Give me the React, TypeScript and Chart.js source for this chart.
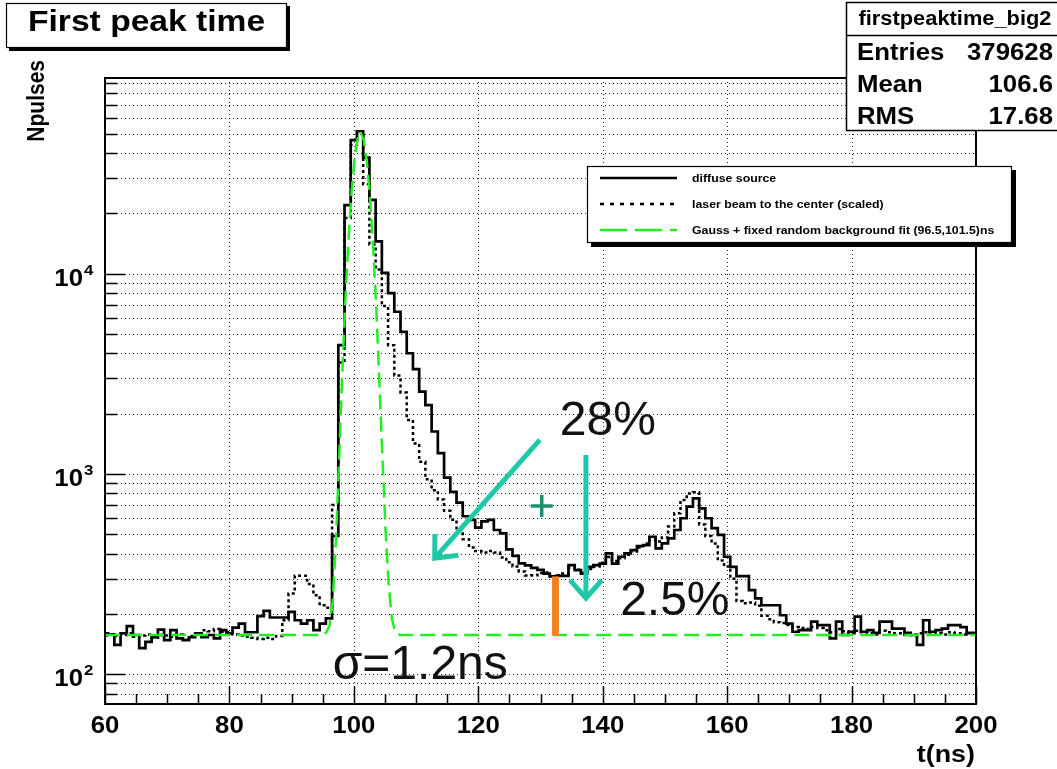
import React, { useEffect, useRef } from "react";
import { Chart, registerables } from "chart.js";

Chart.register(...registerables);

// Histograms use 1 ns bins centred on whole nanoseconds, 60 ns .. 200 ns.
const FIRST_BIN_CENTER = 60;

const diffuseCounts: number[] = [
  160, 158, 140, 160, 174, 157, 135, 145, 153, 167,
  148, 166, 151, 148, 153, 160, 153, 157, 151, 166,
  160, 171, 179, 162, 162, 195, 207, 192, 192, 192,
  205, 186, 179, 186, 166, 179, 190, 490, 4400, 22000,
  46500, 51500, 38000, 23400, 14500, 10100, 8000, 6460, 5130, 4010,
  3340, 2580, 2210, 1630, 1270, 960, 815, 720, 615, 590,
  540, 580, 590, 525, 505, 420, 390, 358, 350, 340,
  332, 318, 308, 310, 310, 351, 331, 318, 344, 351,
  357, 401, 357, 386, 401, 417, 436, 441, 486, 425,
  450, 477, 525, 601, 687, 756, 674, 601, 537, 496,
  386, 344, 309, 309, 263, 239, 221, 221, 221, 197,
  179, 163, 166, 166, 183, 176, 176, 151, 183, 157,
  163, 194, 163, 166, 161, 183, 183, 169, 169, 161,
  157, 140, 186, 163, 166, 169, 176, 176, 172, 161,
  161,
];

const laserCounts: number[] = [
  156, 158, 155, 157, 160, 154, 156, 158, 152, 157,
  156, 154, 158, 150, 155, 158, 166, 164, 168, 163,
  162, 158, 156, 154, 152, 150, 152, 150, 155, 186,
  253, 310, 310, 282, 248, 221, 215, 700, 3600, 19000,
  44000, 51500, 28000, 14000, 10500, 6900, 4400, 3100, 2550, 1860,
  1420, 1150, 940, 830, 745, 655, 590, 520, 472, 430,
  412, 405, 412, 405, 383, 362, 345, 326, 311, 312,
  320, 322, 305, 312, 318, 340, 332, 322, 335, 345,
  360, 385, 368, 380, 395, 410, 430, 450, 470, 460,
  482, 546, 636, 741, 800, 810, 560, 490, 450, 370,
  345, 300, 232, 226, 228, 220, 196, 188, 182, 180,
  176, 172, 170, 168, 172, 170, 166, 162, 168, 164,
  160, 165, 162, 160, 158, 165, 162, 160, 160, 157,
  158, 160, 162, 158, 160, 158, 162, 160, 158, 160,
  158,
];

// Gauss + flat background fit curve, sampled points (t in ns, counts)
const fitTimes: number[] = [
  60, 94.6, 95.1, 95.6, 96.1, 96.6, 97.1, 97.6, 98.1, 98.6, 99.1, 99.6, 100.1, 100.6, 101.0,
  101.6, 102.1, 102.6, 103.1, 103.6, 104.1, 104.6, 105.1, 105.6, 106.1, 106.6, 107.1, 107.6, 200,
];
const fitCounts: number[] = [
  157, 157, 158, 162, 175, 230, 450, 1100, 3000, 7000, 14000, 25000, 37000, 47000, 51500,
  46500, 36000, 24000, 13500, 6800, 2900, 1200, 520, 280, 190, 165, 158, 157, 157,
];

const xTickValues: number[] = [60, 80, 100, 120, 140, 160, 180, 200];
const yDecadeValues: number[] = [100, 1000, 10000];
const yDecadeExponents: string[] = ["2", "3", "4"];

const statsName = "firstpeaktime_big2";
const statsLabels: string[] = ["Entries", "Mean", "RMS"];
const statsValues: string[] = ["379628", "106.6", "17.68"];

const legendLabels: string[] = [
  "diffuse source",
  "laser beam to the center (scaled)",
  "Gauss + fixed random background fit (96.5,101.5)ns",
];

// Hand-drawn remarks, placed in data coordinates (t, counts)
const remarkTexts = [
  { text: "28%", t: 133.1, v: 1567 },
  { text: "2.5%", t: 142.8, v: 197 },
  { text: "σ=1.2ns", t: 96.6, v: 94.4 },
];
const remarkArrows = [
  { t1: 129.9, v1: 1479, t2: 113.0, v2: 380 },
  { t1: 137.3, v1: 1245, t2: 137.3, v2: 240 },
];
const plusMark = { t: 130.2, v: 692 };
const tailBarTime = 132.4;
const tailBarBin = 132;
const backgroundLevel = 157;

const W = 1057;
const H = 769;
const FONT = '"Liberation Sans", Arial, Helvetica, sans-serif';
const STRETCH = 1.12;
const TEAL = "#1fc8a6";

function drawText(
  ctx: CanvasRenderingContext2D,
  text: string,
  x: number,
  y: number,
  size: number,
  bold = true,
  align: CanvasTextAlign = "left",
  stretch = STRETCH,
  color = "#000"
) {
  ctx.save();
  ctx.font = `${bold ? "bold " : ""}${size}px ${FONT}`;
  ctx.fillStyle = color;
  ctx.textAlign = align;
  ctx.textBaseline = "alphabetic";
  ctx.translate(x, y);
  ctx.scale(stretch, 1);
  ctx.fillText(text, 0, 0);
  ctx.restore();
}

function drawArrow(ctx: CanvasRenderingContext2D, x1: number, y1: number, x2: number, y2: number) {
  const ang = Math.atan2(y2 - y1, x2 - x1);
  const head = 24;
  const spread = 0.72;
  ctx.save();
  ctx.strokeStyle = TEAL;
  ctx.lineWidth = 5;
  ctx.lineCap = "butt";
  ctx.lineJoin = "miter";
  ctx.beginPath();
  ctx.moveTo(x1, y1);
  ctx.lineTo(x2 - 2 * Math.cos(ang), y2 - 2 * Math.sin(ang));
  ctx.stroke();
  ctx.beginPath();
  ctx.moveTo(x2 - head * Math.cos(ang - spread), y2 - head * Math.sin(ang - spread));
  ctx.lineTo(x2, y2);
  ctx.lineTo(x2 - head * Math.cos(ang + spread), y2 - head * Math.sin(ang + spread));
  ctx.stroke();
  ctx.restore();
}

const xGridValues: number[] = [80, 100, 120, 140, 160, 180];
const yGridValues: number[] = [];
for (const dec of [10, 100, 1000, 10000]) {
  for (let m = 1; m <= 9; m++) {
    const v = m * dec;
    if (v > 71 && v < 95000) yGridValues.push(v);
  }
}
const xMinorTicks: number[] = [];
for (let t = 60; t <= 200; t += 5) xMinorTicks.push(t);

const rootStylePlugin = {
  id: "rootStyle",
  beforeDatasetsDraw(chart: any) {
    const { ctx, chartArea: a } = chart;
    const xs = chart.scales.x;
    const ys = chart.scales.y;
    ctx.save();
    ctx.beginPath();
    ctx.rect(a.left, a.top, a.right - a.left, a.bottom - a.top);
    ctx.clip();
    ctx.strokeStyle = "rgba(0,0,0,0.85)";
    ctx.lineWidth = 1;
    ctx.setLineDash([1, 3]);
    ctx.beginPath();
    for (const v of xGridValues) {
      const px = Math.round(xs.getPixelForValue(v)) + 0.5;
      ctx.moveTo(px, a.top);
      ctx.lineTo(px, a.bottom);
    }
    for (const v of yGridValues) {
      const py = Math.round(ys.getPixelForValue(v)) + 0.5;
      ctx.moveTo(a.left, py);
      ctx.lineTo(a.right, py);
    }
    ctx.stroke();
    ctx.restore();
  },
  afterDatasetsDraw(chart: any) {
    const { ctx, chartArea: a } = chart;
    const xs = chart.scales.x;
    const ys = chart.scales.y;
    ctx.save();
    // tick marks
    ctx.strokeStyle = "#000";
    ctx.lineWidth = 1.5;
    ctx.beginPath();
    for (const t of xMinorTicks) {
      const px = Math.round(xs.getPixelForValue(t)) + 0.5;
      const len = (t - 60) % 20 === 0 ? 18 : 10;
      ctx.moveTo(px, a.bottom);
      ctx.lineTo(px, a.bottom - len);
    }
    for (const v of yGridValues.concat(yDecadeValues)) {
      const py = Math.round(ys.getPixelForValue(v)) + 0.5;
      const len = yDecadeValues.includes(v) ? 20 : 12;
      ctx.moveTo(a.left, py);
      ctx.lineTo(a.left + len, py);
    }
    ctx.stroke();
    // frame
    ctx.lineWidth = 2;
    ctx.strokeRect(a.left, a.top, a.right - a.left, a.bottom - a.top);
    ctx.restore();

    // x labels
    xTickValues.forEach((v) => {
      drawText(ctx, String(v), xs.getPixelForValue(v), 733, 23, true, "center");
    });
    drawText(ctx, "t(ns)", 975, 762, 24, true, "right");

    // y labels
    yDecadeValues.forEach((v, i) => {
      const py = ys.getPixelForValue(v);
      drawText(ctx, "10", 83, py + 12, 23, true, "right");
      drawText(ctx, yDecadeExponents[i], 84, py + 1, 15, true, "left");
    });

    // y title
    ctx.save();
    ctx.font = `bold 21px ${FONT}`;
    ctx.fillStyle = "#000";
    ctx.translate(44, 60);
    ctx.scale(STRETCH, 1);
    ctx.rotate(-Math.PI / 2);
    ctx.textAlign = "right";
    ctx.fillText("Npulses", 0, 0);
    ctx.restore();
  },
  afterDraw(chart: any) {
    const { ctx } = chart;
    const xs = chart.scales.x;
    const ys = chart.scales.y;

    // title pave
    ctx.save();
    ctx.fillStyle = "#000";
    ctx.fillRect(9, 6, 281, 45);
    ctx.fillStyle = "#fff";
    ctx.fillRect(6, 3, 281, 45);
    ctx.strokeStyle = "#000";
    ctx.lineWidth = 1.2;
    ctx.strokeRect(6.5, 3.5, 280, 44);
    ctx.restore();
    drawText(ctx, "First peak time", 28, 31, 30, true, "left");

    // statistics box
    ctx.save();
    ctx.fillStyle = "#fff";
    ctx.fillRect(846, 3, 220, 128);
    ctx.strokeStyle = "#000";
    ctx.lineWidth = 1.5;
    ctx.strokeRect(846.5, 2.5, 220, 128);
    ctx.beginPath();
    ctx.moveTo(846, 35.5);
    ctx.lineTo(W, 35.5);
    ctx.stroke();
    ctx.restore();
    drawText(ctx, statsName, 955, 25, 19.5, true, "center");
    statsLabels.forEach((lab, i) => {
      const base = 60 + i * 32;
      drawText(ctx, lab, 857, base, 23, true, "left");
      drawText(ctx, statsValues[i], 1053, base, 23, true, "right");
    });

    // legend
    ctx.save();
    ctx.fillStyle = "#000";
    ctx.fillRect(591, 170, 425, 77);
    ctx.fillStyle = "#fff";
    ctx.fillRect(587, 166, 425, 77);
    ctx.strokeStyle = "#000";
    ctx.lineWidth = 1.2;
    ctx.strokeRect(587.5, 166.5, 424, 76);
    const rows = [178, 204, 230];
    const styles = [
      { color: "#000", dash: [] as number[], width: 2.5 },
      { color: "#000", dash: [4, 6], width: 2.5 },
      { color: "#22ee22", dash: [27, 8], width: 2.5 },
    ];
    rows.forEach((ry, i) => {
      ctx.strokeStyle = styles[i].color;
      ctx.lineWidth = styles[i].width;
      ctx.setLineDash(styles[i].dash);
      ctx.beginPath();
      ctx.moveTo(600, ry);
      ctx.lineTo(677, ry);
      ctx.stroke();
    });
    ctx.setLineDash([]);
    ctx.restore();
    rows.forEach((ry, i) => drawText(ctx, legendLabels[i], 692, ry + 4, 11, true, "left"));

    // remarks
    const xb = xs.getPixelForValue(tailBarTime);
    const yTop = ys.getPixelForValue(diffuseCounts[tailBarBin - FIRST_BIN_CENTER]);
    const yBot = ys.getPixelForValue(backgroundLevel);
    ctx.save();
    ctx.fillStyle = "#f7801e";
    ctx.fillRect(xb - 3.5, yTop, 7, yBot - yTop);
    ctx.restore();

    remarkArrows.forEach((r) => {
      drawArrow(ctx, xs.getPixelForValue(r.t1), ys.getPixelForValue(r.v1), xs.getPixelForValue(r.t2), ys.getPixelForValue(r.v2));
    });

    const px = xs.getPixelForValue(plusMark.t);
    const py = ys.getPixelForValue(plusMark.v);
    ctx.save();
    ctx.strokeStyle = "#1e8f72";
    ctx.lineWidth = 3.5;
    ctx.beginPath();
    ctx.moveTo(px - 11, py);
    ctx.lineTo(px + 11, py);
    ctx.moveTo(px, py - 11);
    ctx.lineTo(px, py + 11);
    ctx.stroke();
    ctx.restore();

    remarkTexts.forEach((r) => {
      drawText(ctx, r.text, xs.getPixelForValue(r.t), ys.getPixelForValue(r.v), 48, false, "left", 1, "#111");
    });
  },
};

export default function App() {
  const ref = useRef<HTMLCanvasElement>(null);

  useEffect(() => {
    const canvas = ref.current;
    if (!canvas) return;
    const diffusePoints = diffuseCounts.map((v, i) => ({ x: FIRST_BIN_CENTER + i, y: v }));
    const laserPoints = laserCounts.map((v, i) => ({ x: FIRST_BIN_CENTER + i, y: v }));
    const fitPoints = fitTimes.map((t, i) => ({ x: t, y: fitCounts[i] }));

    const chart = new Chart(canvas, {
      type: "line",
      data: {
        datasets: [
          {
            label: legendLabels[2],
            data: fitPoints,
            borderColor: "#22ee22",
            borderWidth: 2.5,
            borderDash: [15, 7],
            pointRadius: 0,
            fill: false,
            tension: 0,
            order: 0,
          },
          {
            label: legendLabels[0],
            data: diffusePoints,
            borderColor: "#000",
            borderWidth: 2.7,
            stepped: "middle",
            pointRadius: 0,
            fill: false,
            order: 1,
          },
          {
            label: legendLabels[1],
            data: laserPoints,
            borderColor: "#000",
            borderWidth: 2.5,
            borderDash: [3, 3],
            stepped: "middle",
            pointRadius: 0,
            fill: false,
            order: 2,
          },
        ],
      },
      options: {
        animation: false,
        responsive: false,
        devicePixelRatio: 1,
        events: [],
        layout: { padding: { left: 0, right: W - 976, top: 78, bottom: 0 } },
        plugins: { legend: { display: false }, tooltip: { enabled: false } },
        scales: {
          x: {
            type: "linear",
            min: 60,
            max: 200,
            ticks: { display: false },
            grid: { display: false },
            border: { display: false },
            afterFit: (s: any) => {
              s.height = H - 704;
            },
          },
          y: {
            type: "logarithmic",
            min: 71,
            max: 95000,
            ticks: { display: false },
            grid: { display: false },
            border: { display: false },
            afterFit: (s: any) => {
              s.width = 105;
            },
          },
        },
      },
      plugins: [rootStylePlugin],
    } as any);

    return () => chart.destroy();
  }, []);

  return (
    <div style={{ position: "absolute", left: 0, top: 0, width: W, height: H, background: "#fff" }}>
      <canvas ref={ref} width={W} height={H} style={{ display: "block", width: W, height: H }} />
    </div>
  );
}
